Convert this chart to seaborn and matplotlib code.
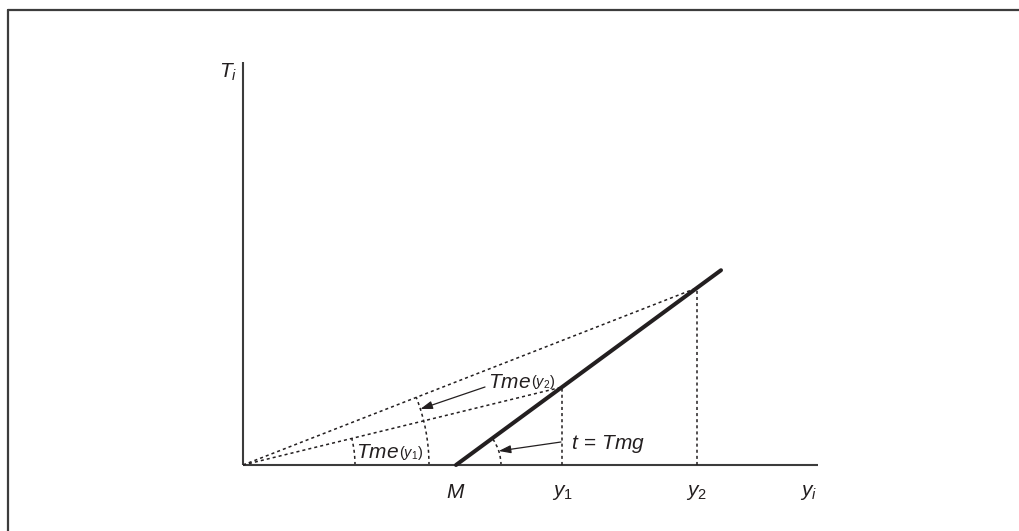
import numpy as np
import pandas as pd
import matplotlib
matplotlib.use("Agg")
import matplotlib.pyplot as plt
from matplotlib.patches import Arc
from matplotlib.lines import Line2D
import seaborn as sns

# ---- data (abstract units) ----
m_point = 2.13          # M: intercept of the tax line on the income axis
slope_tmg = 0.735       # marginal rate t = Tmg
y_marks = [3.19, 4.54]  # y1, y2
line_end = 4.78         # end of the thick tax line
x_axis_end = 5.75
y_axis_end = 4.03
tick_labels = ["$M$", "$y_1$", "$y_2$"]

sns.set_theme(style="white")
plt.rcParams["font.family"] = ["Liberation Sans", "DejaVu Sans"]
plt.rcParams["mathtext.fontset"] = "custom"
plt.rcParams["mathtext.it"] = "Liberation Sans:italic"
plt.rcParams["mathtext.rm"] = "Liberation Sans"
plt.rcParams["mathtext.default"] = "it"

INK = "#231f20"
AX = "#3c3c3c"

fig = plt.figure(figsize=(10.19, 5.31), dpi=100)
ax = fig.add_axes([0, 0, 1, 1])
ax.set_xlim(-2.43, 7.76)
ax.set_ylim(-0.66, 4.65)
ax.axis("off")

def tax(y):
    return slope_tmg * (y - m_point)

# axes lines
ax.plot([0, x_axis_end], [0, 0], color=AX, lw=1.5, solid_capstyle="butt")
ax.plot([0, 0], [0, y_axis_end], color=AX, lw=1.5, solid_capstyle="butt")

# thick tax line via seaborn
line_df = pd.DataFrame({"y": [m_point, line_end], "T": [0, tax(line_end)]})
sns.lineplot(data=line_df, x="y", y="T", ax=ax, color=INK, lw=2.9, sort=False,
             estimator=None)

dot = (0, (2.0, 2.0))
pts = [(yv, tax(yv)) for yv in y_marks]
for (yv, tv) in pts:
    ray = pd.DataFrame({"y": [0, yv], "T": [0, tv]})
    sns.lineplot(data=ray, x="y", y="T", ax=ax, color=INK, lw=1.1,
                 linestyle=dot, sort=False, estimator=None)
    ax.plot([yv, yv], [0, tv], color=INK, lw=1.1, linestyle=dot)

ang_y1 = np.degrees(np.arctan2(pts[0][1], pts[0][0]))
ang_y2 = np.degrees(np.arctan2(pts[1][1], pts[1][0]))
ang_t = np.degrees(np.arctan(slope_tmg))

r_big, r_small, r_m = 1.86, 1.12, 0.45
ax.add_patch(Arc((0, 0), 2 * r_big, 2 * r_big, theta1=0, theta2=ang_y2,
                 color=INK, lw=1.1, linestyle=dot))
ax.add_patch(Arc((0, 0), 2 * r_small, 2 * r_small, theta1=0, theta2=ang_y1,
                 color=INK, lw=1.1, linestyle=dot))
ax.add_patch(Arc((m_point, 0), 2 * r_m, 2 * r_m, theta1=0, theta2=ang_t,
                 color=INK, lw=1.1, linestyle=dot))

fs = 15
# arrows
a_mid = np.radians((ang_y1 + ang_y2) / 2)
tip_big = (r_big * np.cos(a_mid), r_big * np.sin(a_mid))
ax.annotate("", xy=tip_big, xytext=(2.42, 0.78),
            arrowprops=dict(arrowstyle="-|>,head_length=0.6,head_width=0.2",
                            color=INK, lw=0.9, shrinkA=0, shrinkB=0))
a_m = np.radians(ang_t / 2)
tip_m = (m_point + r_m * np.cos(a_m), r_m * np.sin(a_m))
ax.annotate("", xy=tip_m, xytext=(3.18, 0.23),
            arrowprops=dict(arrowstyle="-|>,head_length=0.6,head_width=0.2",
                            color=INK, lw=0.9, shrinkA=0, shrinkB=0))

def tme_label(x, y, sub):
    t1 = ax.text(x, y, "$Tme$", fontsize=fs, color=INK, va="center", ha="left")
    ax.annotate(sub, xy=(1.0, 0.02), xycoords=t1, fontsize=10.5, color=INK,
                va="bottom", ha="left")

tme_label(2.45, 0.83, "$(y_2)$")
tme_label(1.13, 0.12, "$(y_1)$")
ax.text(3.28, 0.21, "$t\\,=\\,Tmg$", fontsize=fs, color=INK, va="center", ha="left")

# tick labels
for xv, lab in zip([m_point] + y_marks, tick_labels):
    ax.text(xv, -0.27, lab, fontsize=fs, color=INK, ha="center", va="center")
ax.text(5.66, -0.27, "$y_i$", fontsize=fs, color=INK, ha="center", va="center")
ax.text(-0.15, 3.93, "$T_i$", fontsize=fs, color=INK, ha="center", va="center")

# outer frame (top and left edges visible)
x0, y0 = 8 / 1019, 1 - 10 / 531
fig.add_artist(Line2D([x0, 1.0], [y0, y0], transform=fig.transFigure,
                      color=AX, lw=1.6))
fig.add_artist(Line2D([x0, x0], [0.0, y0], transform=fig.transFigure,
                      color=AX, lw=1.6))

fig.savefig("out.png", dpi=100)
